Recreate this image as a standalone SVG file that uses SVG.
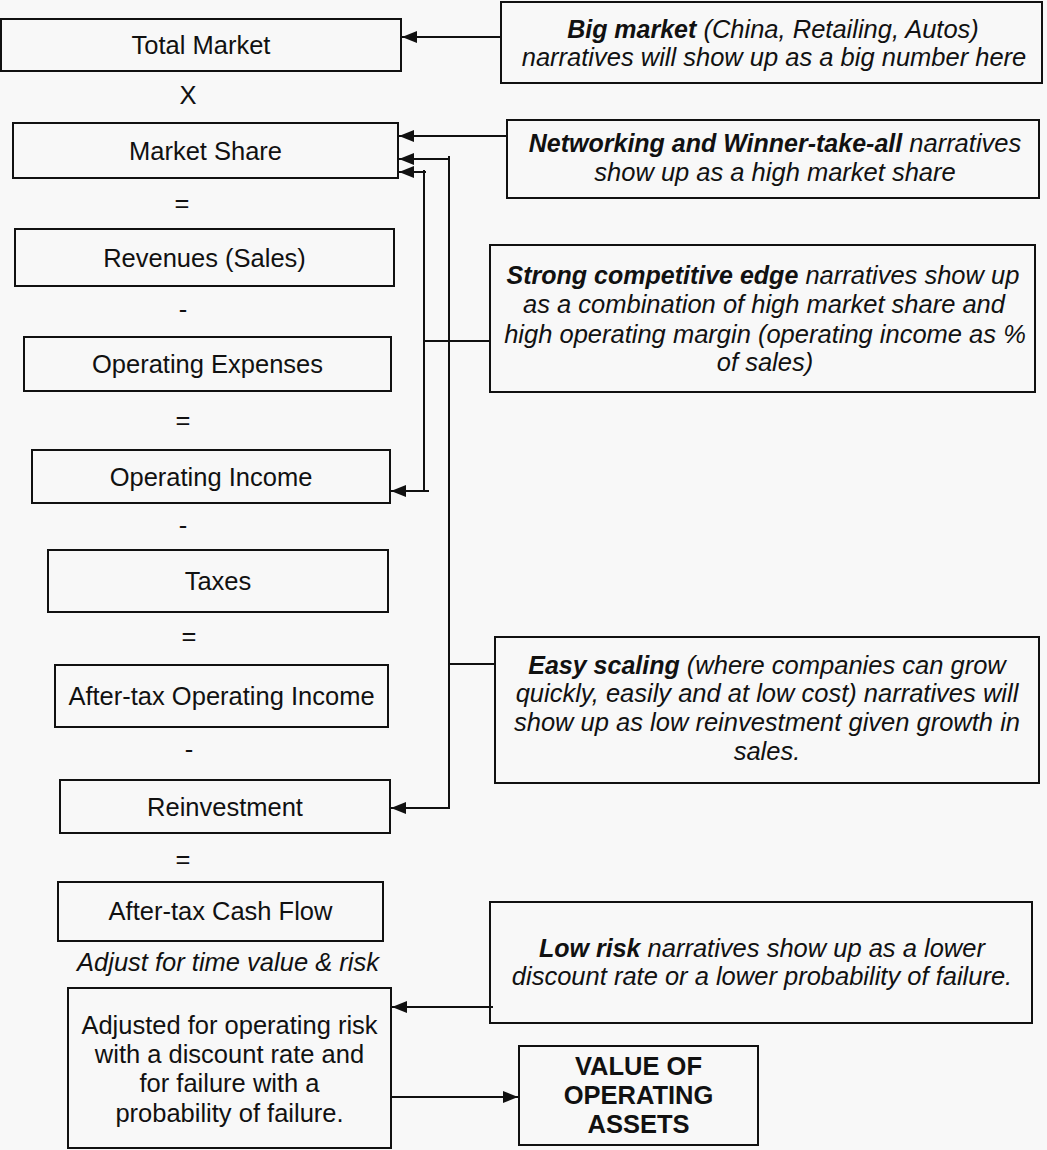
<svg xmlns="http://www.w3.org/2000/svg" width="1047" height="1150" viewBox="0 0 1047 1150">
<style>
.box{fill:#f8f8f8;stroke:#111;stroke-width:2}
.t{font-family:"Liberation Sans",Arial,sans-serif;font-size:25.5px;fill:#111;text-anchor:middle}
.i{font-style:italic}
.b{font-weight:bold}
tspan.b{font-size:25px}
.ln{stroke:#111;stroke-width:2;fill:none}
</style>
<defs>
<marker id="ah" markerWidth="15" markerHeight="12" refX="15" refY="6" orient="auto" markerUnits="userSpaceOnUse">
<path d="M0,0 L15,6 L0,12 Z" fill="#111"/>
</marker>
</defs>
<rect width="1047" height="1150" fill="#f8f8f8"/>

<g id="total-market"><rect class="box" x="1" y="19" width="400" height="52"/><text class="t" x="201" y="54">Total Market</text></g>
<text class="t" x="188" y="104">X</text>
<g id="market-share"><rect class="box" x="13" y="123" width="385" height="55"/><text class="t" x="205.5" y="160">Market Share</text></g>
<text class="t" x="182" y="212">=</text>
<g id="revenues"><rect class="box" x="15" y="229" width="379" height="57"/><text class="t" x="204.5" y="267">Revenues (Sales)</text></g>
<text class="t" x="183" y="318">-</text>
<g id="operating-expenses"><rect class="box" x="24" y="337" width="367" height="54"/><text class="t" x="207.5" y="373">Operating Expenses</text></g>
<text class="t" x="183" y="429">=</text>
<g id="operating-income"><rect class="box" x="32" y="450" width="358" height="53"/><text class="t" x="211" y="486">Operating Income</text></g>
<text class="t" x="183" y="534">-</text>
<g id="taxes"><rect class="box" x="48" y="550" width="340" height="62"/><text class="t" x="218" y="590">Taxes</text></g>
<text class="t" x="189" y="645">=</text>
<g id="after-tax-operating-income"><rect class="box" x="55" y="665" width="333" height="62"/><text class="t" x="221.5" y="705">After-tax Operating Income</text></g>
<text class="t" x="189" y="758">-</text>
<g id="reinvestment"><rect class="box" x="60" y="780" width="330" height="53"/><text class="t" x="225" y="816">Reinvestment</text></g>
<text class="t" x="183" y="868">=</text>
<g id="after-tax-cash-flow"><rect class="box" x="58" y="882" width="325" height="59"/><text class="t" x="220.5" y="920">After-tax Cash Flow</text></g>
<text class="t i" x="228" y="971">Adjust for time value &amp; risk</text>
<g id="adjusted"><rect class="box" x="68" y="988" width="323" height="160"/>
<text class="t" x="229.5" y="1034">Adjusted for operating risk</text>
<text class="t" x="229.5" y="1063">with a discount rate and</text>
<text class="t" x="229.5" y="1092">for failure with a</text>
<text class="t" x="229.5" y="1122">probability of failure.</text></g>
<g id="value"><rect class="box" x="519" y="1046" width="239" height="99"/>
<text class="t b" x="638.5" y="1075">VALUE OF</text>
<text class="t b" x="638.5" y="1104">OPERATING</text>
<text class="t b" x="638.5" y="1133">ASSETS</text></g>

<g id="big-market"><rect class="box" x="501" y="2" width="541" height="81"/>
<text class="t i" x="773" y="38"><tspan class="b">Big market</tspan> (China, Retailing, Autos)</text>
<text class="t i" x="774" y="66">narratives will show up as a big number here</text></g>
<g id="networking"><rect class="box" x="507" y="120" width="532" height="78"/>
<text class="t i" x="775" y="152"><tspan class="b">Networking and Winner-take-all</tspan> narratives</text>
<text class="t i" x="775" y="181">show up as a high market share</text></g>
<g id="strong-edge"><rect class="box" x="490" y="245" width="545" height="147"/>
<text class="t i" x="763" y="284"><tspan class="b">Strong competitive edge</tspan> narratives show up</text>
<text class="t i" x="764" y="313">as a combination of high market share and</text>
<text class="t i" x="765" y="343">high operating margin (operating income as %</text>
<text class="t i" x="765" y="371">of sales)</text></g>
<g id="easy-scaling"><rect class="box" x="495" y="637" width="544" height="146"/>
<text class="t i" x="767" y="674"><tspan class="b">Easy scaling</tspan> (where companies can grow</text>
<text class="t i" x="767" y="702">quickly, easily and at low cost) narratives will</text>
<text class="t i" x="767" y="731">show up as low reinvestment given growth in</text>
<text class="t i" x="767" y="760">sales.</text></g>
<g id="low-risk"><rect class="box" x="490" y="902" width="542" height="121"/>
<text class="t i" x="762" y="957"><tspan class="b">Low risk</tspan> narratives show up as a lower</text>
<text class="t i" x="762" y="985">discount rate or a lower probability of failure.</text></g>

<g id="connectors">
<line class="ln" x1="501" y1="37" x2="402" y2="37" marker-end="url(#ah)"/>
<line class="ln" x1="507" y1="136" x2="399" y2="136" marker-end="url(#ah)"/>
<line class="ln" x1="449" y1="156" x2="449" y2="808"/>
<line class="ln" x1="450" y1="159" x2="399" y2="159" marker-end="url(#ah)"/>
<line class="ln" x1="449" y1="664" x2="495" y2="664"/>
<line class="ln" x1="450" y1="808" x2="391" y2="808" marker-end="url(#ah)"/>
<line class="ln" x1="424" y1="170" x2="424" y2="491"/>
<line class="ln" x1="426" y1="172" x2="399" y2="172" marker-end="url(#ah)"/>
<line class="ln" x1="424" y1="341" x2="490" y2="341"/>
<line class="ln" x1="429" y1="491" x2="391" y2="491" marker-end="url(#ah)"/>
<line class="ln" x1="493" y1="1007" x2="392" y2="1007" marker-end="url(#ah)"/>
<line class="ln" x1="391" y1="1097" x2="518" y2="1097" marker-end="url(#ah)"/>
</g>
</svg>
